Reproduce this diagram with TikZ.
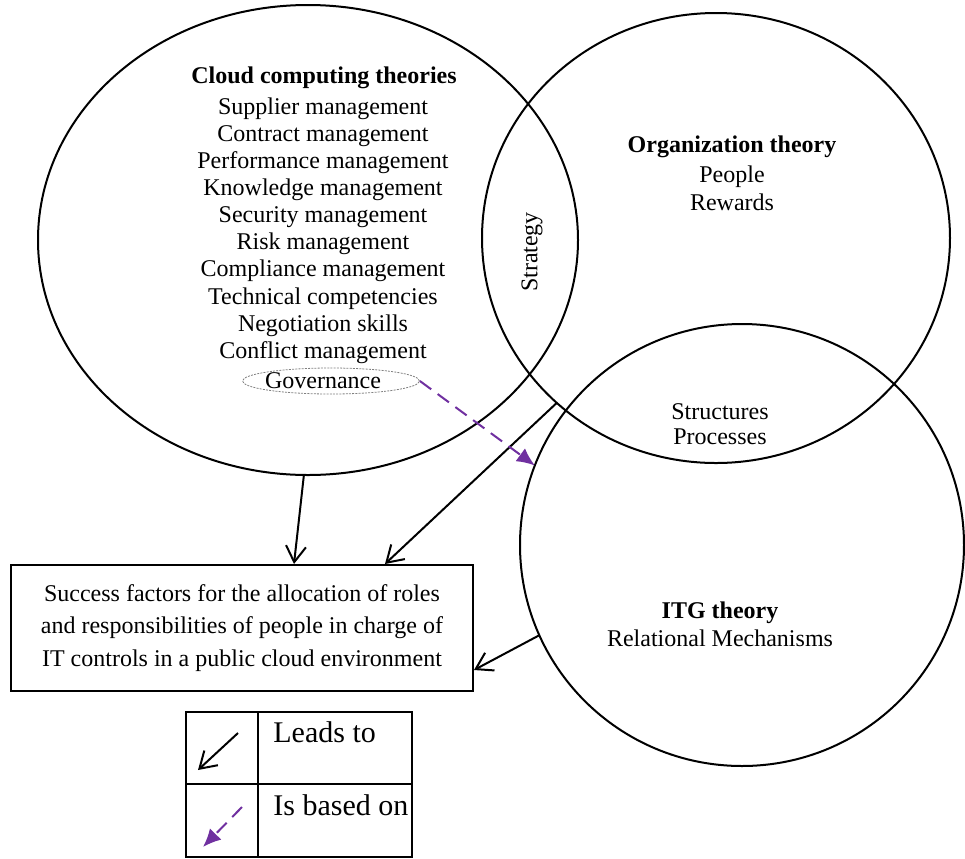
\documentclass[tikz,border=0pt]{standalone}
\usepackage{fontspec}
\setmainfont{Liberation Serif}
\usetikzlibrary{shapes.geometric,arrows.meta}
\definecolor{basedon}{RGB}{112,48,160}
\begin{document}
\begin{tikzpicture}[x=0.5pt,y=-0.5pt,
  theory/.style={draw, ellipse, line width=1pt, inner sep=0pt, outer sep=0pt},
  txt/.style={font=\fontsize{12pt}{13.6pt}\selectfont, inner sep=0pt, anchor=base},
  head/.style={txt, font=\fontsize{12pt}{13.6pt}\selectfont\bfseries},
  legtxt/.style={font=\fontsize{15pt}{18pt}\selectfont, inner sep=0pt, anchor=base west},
  leads/.style={line width=1pt, -{Straight Barb[length=8pt,width=10pt]}},
  based/.style={draw=basedon, line width=1pt, dash pattern=on 7pt off 4pt,
                -{Latex[length=9pt,width=8pt]}},
]
\useasboundingbox (0,0) rectangle (965,858);

% the three theory circles
\node[theory, minimum width=270pt, minimum height=235pt] (cloud) at (308,240) {};
\node[theory, minimum width=234pt, minimum height=225pt] (org) at (716,238) {};
\node[theory, minimum width=222pt, minimum height=221pt] (itg) at (742,545) {};

% cloud computing theories
\node[head] (cloudtitle) at (324,83) {Cloud computing theories};
\foreach \t [count=\i] in {Supplier management, Contract management,
    Performance management, Knowledge management, Security management,
    Risk management, Compliance management, Technical competencies,
    Negotiation skills, Conflict management}
  \node[txt] (cc\i) at (323,{114+27.15*(\i-1)}) {\t};
\node[txt] (gov) at (323,388) {Governance};
\node[draw=gray, ellipse, line width=0.4pt, dash pattern=on 1pt off 0.6pt,
      inner sep=0pt, minimum width=88.5pt, minimum height=13pt] (govring) at (331,381) {};

% organization theory
\node[head] (orgtitle) at (732,152) {Organization theory};
\node[txt] (people) at (732,182) {People};
\node[txt] (rewards) at (732,210) {Rewards};
\node[txt, anchor=center, rotate=90] (strategy) at (532,252) {Strategy};
\node[txt] (structures) at (720,419) {Structures};
\node[txt] (processes) at (720,444) {Processes};

% IT governance theory
\node[head] (itgtitle) at (720,618) {ITG theory};
\node[txt] (relmech) at (720,646) {Relational Mechanisms};

% outcome box
\node[draw, line width=1pt, inner sep=0pt, minimum width=231pt, minimum height=63pt,
      align=center, font=\fontsize{12pt}{16.25pt}\selectfont] (box) at (242,628)
  {Success factors for the allocation of roles\\
   and responsibilities of people in charge of\\
   IT controls in a public cloud environment};

% connectors
\draw[leads] (cloud.269) -- ([xshift=26pt]box.north);
\draw[leads] (org.226) -- ([xshift=71.5pt]box.north);
\draw[leads] (itg.204) -- ([yshift=-21pt]box.east);
\draw[based] (govring.east) -- (itg.159);

% legend
\draw[line width=0.9pt] (186,712) rectangle (412,857);
\draw[line width=0.9pt] (258,712) -- (258,857);
\draw[line width=0.9pt] (186,784) -- (412,784);
\coordinate (k1a) at (238,733);
\coordinate (k1b) at (198,770);
\coordinate (k2a) at (242,807);
\coordinate (k2b) at (203,847);
\draw[leads] (k1a) -- (k1b);
\draw[based] (k2a) -- (k2b);
\node[legtxt] (leadsto) at (273,742) {Leads to};
\node[legtxt] (isbasedon) at (273,815) {Is based on};
\end{tikzpicture}
\end{document}
